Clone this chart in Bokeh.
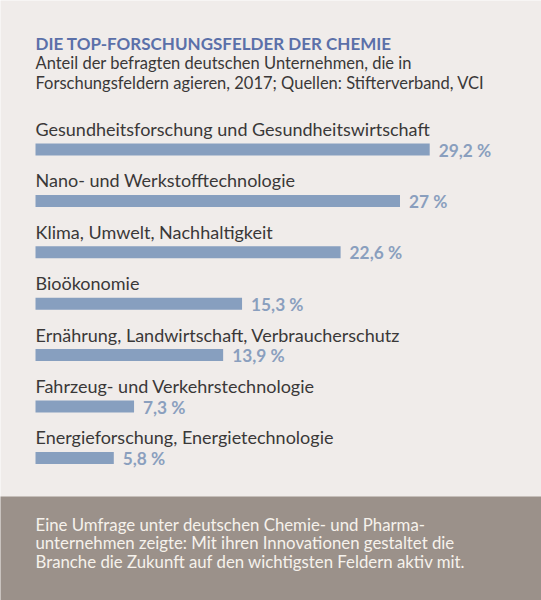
from bokeh.plotting import figure
from bokeh.models import Range1d, ColumnDataSource, Label, BoxAnnotation
from bokeh.embed import file_html
from bokeh.resources import INLINE
from bokeh.core.properties import value

# ---- data ----
categories = [
    "Gesundheitsforschung und Gesundheitswirtschaft",
    "Nano- und Werkstofftechnologie",
    "Klima, Umwelt, Nachhaltigkeit",
    "Bioökonomie",
    "Ernährung, Landwirtschaft, Verbraucherschutz",
    "Fahrzeug- und Verkehrstechnologie",
    "Energieforschung, Energietechnologie",
]
shares = [29.2, 27.0, 22.6, 15.3, 13.9, 7.3, 5.8]
share_labels = ["29,2 %", "27 %", "22,6 %", "15,3 %", "13,9 %", "7,3 %", "5,8 %"]

title_text = "DIE TOP-FORSCHUNGSFELDER DER CHEMIE"
subtitle_lines = [
    "Anteil der befragten deutschen Unternehmen, die in",
    "Forschungsfeldern agieren, 2017; Quellen: Stifterverband, VCI",
]
note_lines = [
    "Eine Umfrage unter deutschen Chemie- und Pharma-",
    "unternehmen zeigte: Mit ihren Innovationen gestaltet die",
    "Branche die Zukunft auf den wichtigsten Feldern aktiv mit.",
]

# ---- layout ----
W, H = 541, 600
PX_PER_UNIT_X = 13.5
ROW_PX = 51.4
FIRST_ROW_PX = 149.0  # pixel-y of the first bar centre
LEFT_PX = 35.0

BG = "#f0ecea"
BAR = "#879fbf"
VAL = "#8a9fbe"
TITLE = "#5b70a9"
DARK = "#3a3838"
BOX = "#9b918a"
NOTE = "#f6f2ec"
FONT = "Lato"

x0 = -LEFT_PX / PX_PER_UNIT_X
x_range = Range1d(x0, x0 + W / PX_PER_UNIT_X)
y_top = FIRST_ROW_PX / ROW_PX
y_range = Range1d(y_top - H / ROW_PX, y_top)


def fy(px):
    """pixel (from top) -> data y"""
    return y_top - px / ROW_PX


def fx(px):
    return x0 + px / PX_PER_UNIT_X


p = figure(width=W, height=H, x_range=x_range, y_range=y_range,
           output_backend="svg", toolbar_location=None,
           min_border=0, min_border_left=0, min_border_right=0,
           min_border_top=0, min_border_bottom=0)
p.axis.visible = False
p.grid.visible = False
p.outline_line_color = None
p.background_fill_color = BG
p.border_fill_color = BG

rows = [-i for i in range(len(categories))]
src = ColumnDataSource(dict(
    y=rows,
    share=shares,
    cat=categories,
    lab=share_labels,
    cat_y=[r + 20.5 / ROW_PX for r in rows],
    val_y=[r - 0.5 / ROW_PX for r in rows],
))

bar_h = 12.0 / ROW_PX
p.hbar(y="y", left=0, right="share", height=bar_h, source=src,
       fill_color=BAR, line_color=None)

p.text(x=0, y="cat_y", text="cat", source=src,
       text_font=value(FONT), text_font_size="18px", text_color=DARK,
       text_baseline="alphabetic", text_align="left")

p.text(x="share", y="val_y", text="lab", source=src, x_offset=9,
       text_font=value(FONT), text_font_size="17.3px", text_color=VAL,
       text_font_style="bold",
       text_baseline="alphabetic", text_align="left")

# title & subtitle
p.add_layout(Label(x=fx(LEFT_PX), y=fy(43), text=title_text,
                   text_font=FONT, text_font_size="17px", text_font_style="bold",
                   text_color=TITLE, text_baseline="alphabetic"))
for k, line in enumerate(subtitle_lines):
    p.add_layout(Label(x=fx(LEFT_PX), y=fy(62 + k * 20.5), text=line,
                       text_font=FONT, text_font_size="16.5px",
                       text_color=DARK, text_baseline="alphabetic"))

# bottom note box
p.add_layout(BoxAnnotation(bottom=fy(H + 20), top=fy(496),
                           left=fx(-20), right=fx(W + 20),
                           fill_color=BOX, fill_alpha=1.0, line_color=None,
                           level="underlay"))
for k, line in enumerate(note_lines):
    p.add_layout(Label(x=fx(LEFT_PX), y=fy(523.5 + k * 18.8), text=line,
                       text_font=FONT, text_font_size="16.8px",
                       text_color=NOTE, text_baseline="alphabetic"))

open("out.html", "w").write(file_html(p, INLINE))
